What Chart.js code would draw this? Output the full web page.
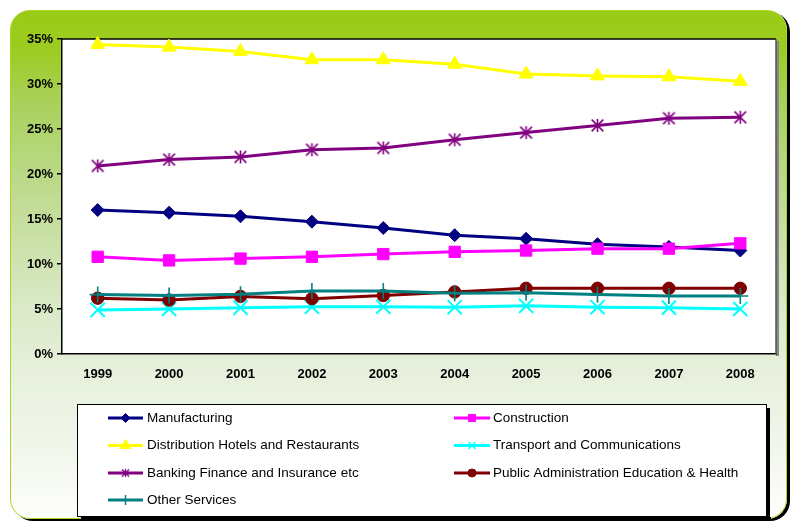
<!DOCTYPE html>
<html>
<head>
<meta charset="utf-8">
<script src="https://cdn.jsdelivr.net/npm/chart.js@4/dist/chart.umd.min.js"></script>
<style>
html,body{margin:0;padding:0;background:#fff;}
#wrap{position:relative;width:795px;height:521px;overflow:hidden;}
#frame{position:absolute;left:10px;top:10px;width:775px;height:507px;border-radius:20px;border:1px solid #A9D420;
background:linear-gradient(to bottom,#9ACB15 0%,#9DCC22 8%,#A9D15C 18%,#BEDA8E 35%,#D8E8C4 57%,#E7F0DC 71%,#F1F6EB 86%,#FDFEFC 100%);
box-shadow:3px 2px 0 #000;}
#c{position:absolute;left:0;top:0;}
</style>
</head>
<body>
<div id="wrap">
<div id="frame"></div>
<canvas id="c" width="795" height="521"></canvas>
</div>
<script>
const years = ['1999','2000','2001','2002','2003','2004','2005','2006','2007','2008'];
const manufacturing = [16.0, 15.7, 15.3, 14.7, 14.0, 13.2, 12.8, 12.2, 11.9, 11.5];
const construction = [10.8, 10.4, 10.6, 10.8, 11.1, 11.35, 11.5, 11.7, 11.7, 12.3];
const distribution = [34.4, 34.1, 33.6, 32.7, 32.7, 32.2, 31.1, 30.9, 30.8, 30.3];
const transport = [4.9, 5.0, 5.15, 5.25, 5.25, 5.2, 5.35, 5.2, 5.15, 5.0];
const banking = [20.9, 21.6, 21.9, 22.7, 22.9, 23.8, 24.6, 25.4, 26.2, 26.3];
const publicAdmin = [6.2, 6.0, 6.4, 6.15, 6.5, 6.9, 7.3, 7.3, 7.3, 7.3];
const otherServices = [6.6, 6.5, 6.65, 7.0, 7.0, 6.75, 6.8, 6.6, 6.45, 6.45];
const seriesNames = ['Manufacturing','Construction','Distribution Hotels and Restaurants','Transport and Communications','Banking Finance and Insurance etc','Public Administration Education & Health','Other Services'];
const yTicks = [0, 5, 10, 15, 20, 25, 30, 35];

function makeStar(color, half, lw) {
  const s = Math.ceil(half * 2 + lw * 2 + 2);
  const cv = document.createElement('canvas');
  cv.width = s; cv.height = s;
  const g = cv.getContext('2d');
  const c = s / 2;
  g.strokeStyle = color; g.lineWidth = lw; g.lineCap = 'butt';
  g.beginPath();
  g.moveTo(c - half * 0.9, c - half * 0.9); g.lineTo(c + half * 0.9, c + half * 0.9);
  g.moveTo(c + half * 0.9, c - half * 0.9); g.lineTo(c - half * 0.9, c + half * 0.9);
  g.moveTo(c, c - half); g.lineTo(c, c + half);
  g.stroke();
  return cv;
}
const starBig = makeStar('#800080', 6.5, 1.6);
const starSmall = makeStar('#800080', 4, 1.4);

const colors = ['#000080','#FF00FF','#FFFF00','#00FFFF','#800080','#800000','#008080'];
const styles = ['rectRot','rect','triangle','crossRot','star','circle','cross'];
const radii = [6.5, 8, 8, 10, 6.5, 6.2, 8];
const ptBorder = [1, 1, 1, 2, 1.6, 1, 1.6];
const legRadii = [4.5, 5, 6, 5, 4, 4, 5];
const values = [manufacturing, construction, distribution, transport, banking, publicAdmin, otherServices];

const datasets = values.map((v, i) => ({
  label: seriesNames[i],
  data: v,
  borderColor: colors[i],
  backgroundColor: colors[i],
  borderWidth: 3,
  pointStyle: styles[i] === 'star' ? starBig : styles[i],
  pointRadius: radii[i],
  pointHoverRadius: radii[i],
  pointBackgroundColor: colors[i],
  pointBorderColor: colors[i],
  pointBorderWidth: ptBorder[i],
  tension: 0,
  fill: false,
  clip: false,
  order: values.length - i
}));

const FONT = '"Liberation Sans", Arial, sans-serif';

const framePlugin = {
  id: 'framePlugin',
  beforeDraw(chart) {
    const {ctx, chartArea: a} = chart;
    ctx.save();
    ctx.fillStyle = '#888';
    ctx.fillRect(a.right, a.top + 2, 3, a.bottom - a.top);
    ctx.fillStyle = '#fff';
    ctx.fillRect(a.left, a.top, a.right - a.left, a.bottom - a.top);
    ctx.restore();
  },
  beforeDatasetsDraw(chart) {
    const {ctx, chartArea: a} = chart;
    ctx.save();
    ctx.strokeStyle = '#000';
    ctx.lineWidth = 1.5;
    ctx.beginPath();
    ctx.moveTo(a.left, a.top); ctx.lineTo(a.right, a.top);
    ctx.stroke();
    ctx.strokeStyle = '#555';
    ctx.beginPath();
    ctx.moveTo(a.right, a.top); ctx.lineTo(a.right, a.bottom);
    ctx.stroke();
    ctx.restore();
  },
  afterDraw(chart) {
    const ctx = chart.ctx;
    const bx = 77, by = 404, bw = 690, bh = 113;
    ctx.save();
    ctx.fillStyle = '#000';
    ctx.fillRect(bx + 4, by + bh, bw, 3);
    ctx.fillRect(bx + bw, by + 4, 3, bh);
    ctx.fillStyle = '#fff';
    ctx.fillRect(bx, by, bw, bh);
    ctx.strokeStyle = '#000';
    ctx.lineWidth = 1;
    ctx.strokeRect(bx + 0.5, by + 0.5, bw - 1, bh - 1);
    const rowsY = [418, 445.5, 473, 500];
    chart.data.datasets.forEach((ds, i) => {
      const col = i % 2, row = Math.floor(i / 2);
      const x0 = col ? 454 : 108, x1 = col ? 490 : 143, tx = col ? 493 : 147;
      const y = rowsY[row];
      ctx.strokeStyle = ds.borderColor;
      ctx.lineWidth = 3;
      ctx.beginPath(); ctx.moveTo(x0, y); ctx.lineTo(x1, y); ctx.stroke();
      const ps = styles[i] === 'star' ? starSmall : styles[i];
      ctx.fillStyle = ds.borderColor;
      ctx.strokeStyle = ds.borderColor;
      ctx.lineWidth = styles[i] === 'cross' || styles[i] === 'crossRot' ? 1.4 : 1;
      Chart.helpers.drawPoint(ctx, {pointStyle: ps, radius: legRadii[i], borderWidth: ctx.lineWidth, rotation: 0}, (x0 + x1) / 2, y);
      ctx.fillStyle = '#000';
      ctx.font = '13.5px ' + FONT;
      ctx.textBaseline = 'middle';
      ctx.textAlign = 'left';
      ctx.fillText(ds.label, tx, y);
    });
    ctx.restore();
  }
};

new Chart(document.getElementById('c'), {
  type: 'line',
  data: { labels: years, datasets },
  options: {
    responsive: false,
    devicePixelRatio: 1,
    animation: false,
    events: [],
    layout: { padding: { left: 0, top: 39, right: 19, bottom: 0 } },
    plugins: { legend: { display: false }, tooltip: { enabled: false }, title: { display: false } },
    scales: {
      x: {
        type: 'category',
        offset: true,
        grid: { display: false, drawTicks: false },
        border: { display: true, color: '#000', width: 1.5 },
        ticks: { font: { family: FONT, size: 13, weight: 'bold' }, color: '#000', padding: 13, maxRotation: 0, autoSkip: false },
        afterFit(s) { s.height = 167; }
      },
      y: {
        min: yTicks[0],
        max: yTicks[yTicks.length - 1],
        afterBuildTicks(s) { s.ticks = yTicks.map(v => ({ value: v })); },
        ticks: { callback: v => v + '%', font: { family: FONT, size: 13, weight: 'bold' }, color: '#000', padding: 4 },
        grid: { drawOnChartArea: false, drawTicks: true, tickLength: 5, color: '#000', lineWidth: 1.5 },
        border: { display: true, color: '#000', width: 1.5 },
        afterFit(s) { s.width = 62; }
      }
    }
  },
  plugins: [framePlugin]
});
</script>
</body>
</html>
